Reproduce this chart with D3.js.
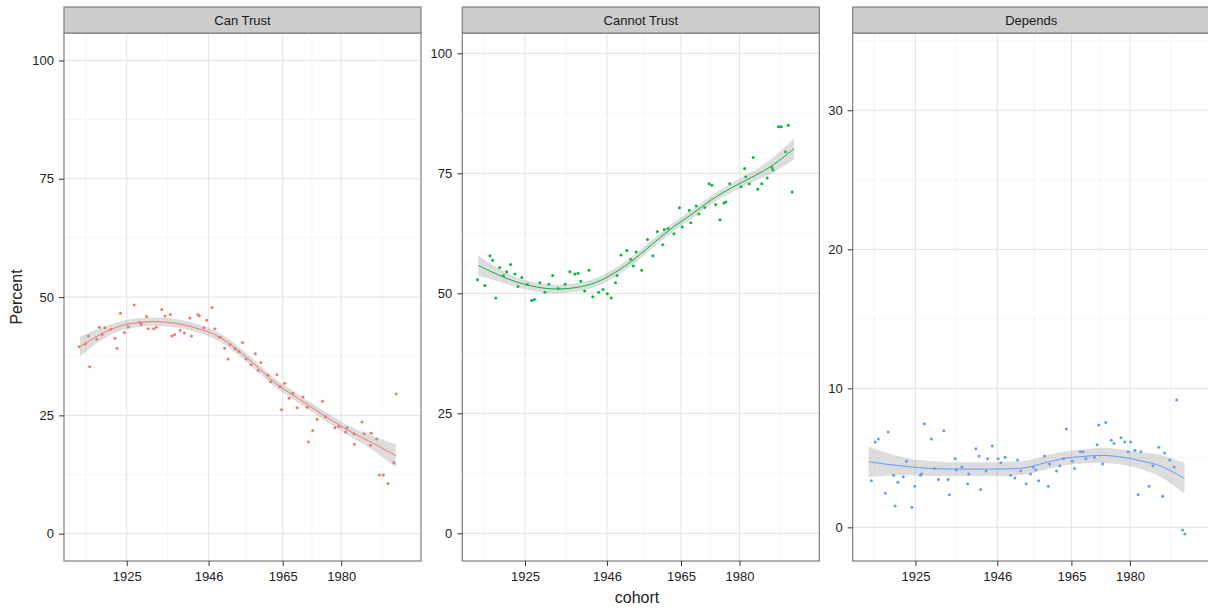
<!DOCTYPE html>
<html>
<head>
<meta charset="utf-8">
<script src="https://cdn.jsdelivr.net/npm/d3@7"></script>
<style>
  body { margin: 0; background: #fff; }
  svg { display: block; font-family: "Liberation Sans", Arial, sans-serif; }
</style>
</head>
<body>
<svg id="chart" width="1208" height="610"></svg>
<script>
// facet titles
const facets = ["Can Trust", "Cannot Trust", "Depends"];
const colors = ["#F8766D", "#00BA38", "#619CFF"];

// x axis breaks
const xBreaks = [1925, 1946, 1965, 1980];
const xMinor = [1914.5, 1935.5, 1955.5, 1972.5, 1990.5];

// Can Trust
const trustYear = [1912.8,1914.4,1915.2,1915.5,1917.3,1918.0,1918.7,1919.4,1920.9,1922.0,1922.5,1923.4,1924.4,1925.4,1926.9,1928.4,1928.7,1930.1,1930.5,1931.9,1932.6,1934.0,1934.8,1936.2,1936.6,1937.3,1938.7,1939.8,1941.2,1941.6,1943.3,1943.6,1944.8,1945.5,1946.9,1947.6,1948.9,1950.1,1951.0,1951.5,1952.8,1953.8,1954.7,1955.6,1956.9,1958.0,1958.7,1959.4,1961.2,1961.9,1963.5,1964.3,1964.7,1965.5,1966.6,1967.6,1968.7,1970.2,1971.3,1971.6,1972.7,1973.8,1975.2,1976.0,1978.4,1979.4,1981.1,1981.5,1983.3,1983.4,1985.3,1985.9,1987.5,1987.7,1989.1,1989.8,1990.8,1992.0,1993.5,1994.1];
const trustPct = [39.5,40.1,41.8,35.3,41.1,43.6,42.1,43.5,43.2,41.3,39.2,46.6,42.5,43.7,48.3,44.7,44.2,45.9,43.3,43.3,43.6,47.4,46.0,46.3,41.8,42.1,43.0,42.4,45.6,41.8,46.3,46.0,43.5,45.1,47.8,43.3,41.5,39.2,36.9,40.0,39.1,38.5,40.4,36.9,35.7,38.0,34.5,36.2,33.5,32.1,33.6,31.1,26.2,31.8,28.6,29.7,26.6,28.9,26.7,19.4,21.8,24.2,28.0,24.7,22.4,22.7,21.5,22.4,21.1,18.9,23.6,21.1,18.7,21.2,20.0,12.4,12.4,10.6,15.0,29.5];

// Cannot Trust
const cannotYear = [1912.8,1914.7,1916.0,1916.7,1917.5,1918.5,1919.5,1920.3,1921.3,1922.4,1923.2,1924.2,1925.6,1926.7,1927.4,1928.8,1930.1,1931.1,1932.1,1933.5,1935.3,1936.5,1937.8,1938.6,1939.3,1940.3,1941.4,1942.4,1943.9,1945.0,1946.1,1947.1,1948.2,1948.6,1949.6,1951.1,1952.1,1952.8,1953.5,1954.9,1956.4,1957.8,1958.9,1960.3,1960.7,1961.7,1963.2,1964.6,1965.3,1967.1,1967.5,1968.9,1969.6,1971.1,1972.2,1972.9,1973.9,1975.0,1976.0,1976.5,1977.5,1980.4,1981.3,1981.6,1982.5,1983.5,1984.7,1985.7,1987.1,1988.3,1988.6,1990.0,1990.7,1991.8,1992.5,1993.5];
const cannotPct = [52.8,51.6,57.8,56.9,49.0,55.4,53.7,54.5,56.0,54.0,51.4,53.3,51.9,48.5,48.7,52.2,50.2,51.9,53.7,51.0,51.9,54.5,54.0,54.2,52.5,50.5,54.8,49.3,50.2,50.8,49.9,49.0,52.2,53.7,58.0,58.9,57.1,55.7,58.6,54.8,61.2,57.8,62.9,60.1,63.3,63.5,62.4,67.8,63.8,67.3,64.7,68.2,66.5,67.9,72.8,72.5,68.5,65.3,68.8,69.0,72.8,72.2,76.0,74.3,72.8,78.3,71.7,72.8,74.0,76.2,75.7,84.7,84.7,79.5,85.0,71.1];

// Depends
const dependsYear = [1913.7,1914.7,1915.5,1917.3,1918.0,1919.4,1919.8,1920.5,1921.9,1922.7,1924.1,1924.8,1926.3,1926.6,1927.3,1929.1,1929.9,1930.9,1932.3,1933.4,1933.7,1935.2,1935.5,1936.9,1938.4,1938.7,1940.5,1941.3,1941.7,1943.1,1943.5,1944.7,1946.2,1946.9,1948.0,1949.4,1950.5,1951.2,1952.0,1953.4,1954.5,1955.2,1955.8,1956.6,1958.1,1959.1,1959.4,1961.2,1962.0,1963.0,1963.7,1965.2,1965.8,1967.3,1968.0,1968.7,1970.9,1971.6,1972.0,1973.0,1973.8,1975.2,1975.9,1977.7,1978.7,1979.5,1980.2,1981.3,1982.1,1982.8,1984.9,1985.9,1987.4,1988.4,1988.9,1990.2,1991.3,1992.0,1993.5,1994.1];
const dependsPct = [3.35,6.14,6.35,2.45,6.86,3.74,1.53,3.24,3.64,4.75,1.44,2.95,3.74,3.83,7.45,6.35,4.24,3.45,6.95,3.45,2.35,4.94,4.12,4.34,3.14,3.83,5.65,5.13,2.73,4.05,4.94,5.85,4.94,4.65,5.04,3.74,3.55,4.84,4.05,3.14,3.83,4.34,4.15,3.35,5.13,2.95,4.55,4.05,4.43,4.94,7.07,4.75,4.24,5.44,5.44,4.94,5.04,5.94,7.36,4.55,7.55,6.26,6.04,6.45,6.14,5.44,6.14,5.54,2.35,5.44,2.95,4.43,5.76,2.23,5.35,4.84,4.34,9.16,-0.19,-0.48];

// loess fits (fit and half band width)
const smoothYear = [1913,1918,1923,1928,1933,1938,1943,1948,1953,1958,1963,1968,1973,1978,1983,1988,1994];
const trustFit = [39.5,42.0,43.8,44.6,44.8,44.4,43.4,41.9,39.1,35.6,31.9,29.1,26.4,23.7,21.3,19.2,16.5];
const trustSe = [2.1,1.4,1.0,0.9,0.9,0.9,0.9,0.9,0.9,0.9,0.9,0.9,0.9,1.0,1.1,1.5,2.4];
const cannotFit = [55.8,53.9,52.3,51.3,50.9,51.2,52.2,54.3,57.1,60.5,63.8,66.6,69.6,72.0,74.1,76.4,80.1];
const cannotSe = [2.1,1.4,1.0,0.9,0.9,0.9,0.9,0.9,0.9,0.9,0.9,0.9,0.9,1.0,1.1,1.5,2.2];
const dependsFit = [4.72,4.53,4.37,4.25,4.20,4.19,4.19,4.20,4.28,4.62,4.95,5.10,5.18,5.05,4.78,4.40,3.52];
const dependsSe = [1.1,0.8,0.6,0.55,0.5,0.5,0.5,0.5,0.5,0.5,0.5,0.5,0.55,0.55,0.6,0.8,1.1];

// y scales per facet (free)
const yDomains = [[-5.77, 105.8], [-5.77, 104.23], [-2.42, 35.56]];
const yBreaks = [[0, 25, 50, 75, 100], [0, 25, 50, 75, 100], [0, 10, 20, 30]];
const yMinor = [[12.5, 37.5, 62.5, 87.5], [12.5, 37.5, 62.5, 87.5], [5, 15, 25, 35]];

const panelX = [64, 462.3, 852.7];
const panelW = 357;
const stripTop = 7, panelTop = 33, panelBottom = 561;

const years = [trustYear, cannotYear, dependsYear];
const pcts = [trustPct, cannotPct, dependsPct];
const fits = [trustFit, cannotFit, dependsFit];
const ses = [trustSe, cannotSe, dependsSe];

const svg = d3.select("#chart");

facets.forEach((name, i) => {
  const x = d3.scaleLinear().domain([1908.92, 2000.46]).range([panelX[i], panelX[i] + panelW]);
  const y = d3.scaleLinear().domain(yDomains[i]).range([panelBottom, panelTop]);
  const g = svg.append("g");

  // minor grid
  g.selectAll(".mx").data(xMinor).enter().append("line")
    .attr("x1", d => x(d)).attr("x2", d => x(d))
    .attr("y1", panelTop).attr("y2", panelBottom)
    .attr("stroke", "#f5f5f5").attr("stroke-width", 1);
  g.selectAll(".my").data(yMinor[i]).enter().append("line")
    .attr("y1", d => y(d)).attr("y2", d => y(d))
    .attr("x1", panelX[i]).attr("x2", panelX[i] + panelW)
    .attr("stroke", "#f5f5f5").attr("stroke-width", 1);
  // major grid
  g.selectAll(".gx").data(xBreaks).enter().append("line")
    .attr("x1", d => x(d)).attr("x2", d => x(d))
    .attr("y1", panelTop).attr("y2", panelBottom)
    .attr("stroke", "#e6e6e6").attr("stroke-width", 1.2);
  g.selectAll(".gy").data(yBreaks[i]).enter().append("line")
    .attr("y1", d => y(d)).attr("y2", d => y(d))
    .attr("x1", panelX[i]).attr("x2", panelX[i] + panelW)
    .attr("stroke", "#e6e6e6").attr("stroke-width", 1.2);

  // points
  const pts = years[i].map((yr, k) => ({ yr: yr, v: pcts[i][k] }));
  g.selectAll("circle").data(pts).enter().append("circle")
    .attr("cx", d => x(d.yr)).attr("cy", d => y(d.v))
    .attr("r", 1.5).attr("fill", colors[i]);

  // smooth band + line
  const sm = smoothYear.map((yr, k) => ({ yr: yr, f: fits[i][k], s: ses[i][k] }));
  const area = d3.area().curve(d3.curveCatmullRom)
    .x(d => x(d.yr)).y0(d => y(d.f - d.s)).y1(d => y(d.f + d.s));
  const line = d3.line().curve(d3.curveCatmullRom)
    .x(d => x(d.yr)).y(d => y(d.f));
  g.append("path").datum(sm).attr("d", area)
    .attr("fill", "#999999").attr("fill-opacity", 0.33);
  g.append("path").datum(sm).attr("d", line)
    .attr("fill", "none").attr("stroke", colors[i]).attr("stroke-width", 1);

  // panel border
  g.append("rect").attr("x", panelX[i]).attr("y", panelTop)
    .attr("width", panelW).attr("height", panelBottom - panelTop)
    .attr("fill", "none").attr("stroke", "#7f7f7f").attr("stroke-width", 1.2);

  // strip
  g.append("rect").attr("x", panelX[i]).attr("y", stripTop)
    .attr("width", panelW).attr("height", panelTop - stripTop)
    .attr("fill", "#cccccc").attr("stroke", "#7f7f7f").attr("stroke-width", 1.2);
  g.append("text").attr("x", panelX[i] + panelW / 2).attr("y", (stripTop + panelTop) / 2)
    .attr("text-anchor", "middle").attr("dominant-baseline", "central")
    .attr("font-size", 13).attr("fill", "#1a1a1a").text(name);

  // axes
  const yAxis = d3.axisLeft(y).tickValues(yBreaks[i]).tickSize(5).tickPadding(5);
  const ya = g.append("g").attr("transform", `translate(${panelX[i]},0)`).call(yAxis);
  const xAxis = d3.axisBottom(x).tickValues(xBreaks).tickFormat(d3.format("d")).tickSize(5).tickPadding(6);
  const xa = g.append("g").attr("transform", `translate(0,${panelBottom})`).call(xAxis);
  [ya, xa].forEach(a => {
    a.select(".domain").remove();
    a.selectAll(".tick line").attr("stroke", "#333");
    a.selectAll(".tick text").attr("font-size", 13).attr("fill", "#222")
      .attr("font-family", "Liberation Sans, Arial, sans-serif");
  });
});

// axis titles
svg.append("text").attr("x", 637).attr("y", 603)
  .attr("text-anchor", "middle").attr("font-size", 16).attr("fill", "#222").text("cohort");
svg.append("text").attr("transform", "translate(22,297) rotate(-90)")
  .attr("text-anchor", "middle").attr("font-size", 16).attr("fill", "#222").text("Percent");
</script>
</body>
</html>
